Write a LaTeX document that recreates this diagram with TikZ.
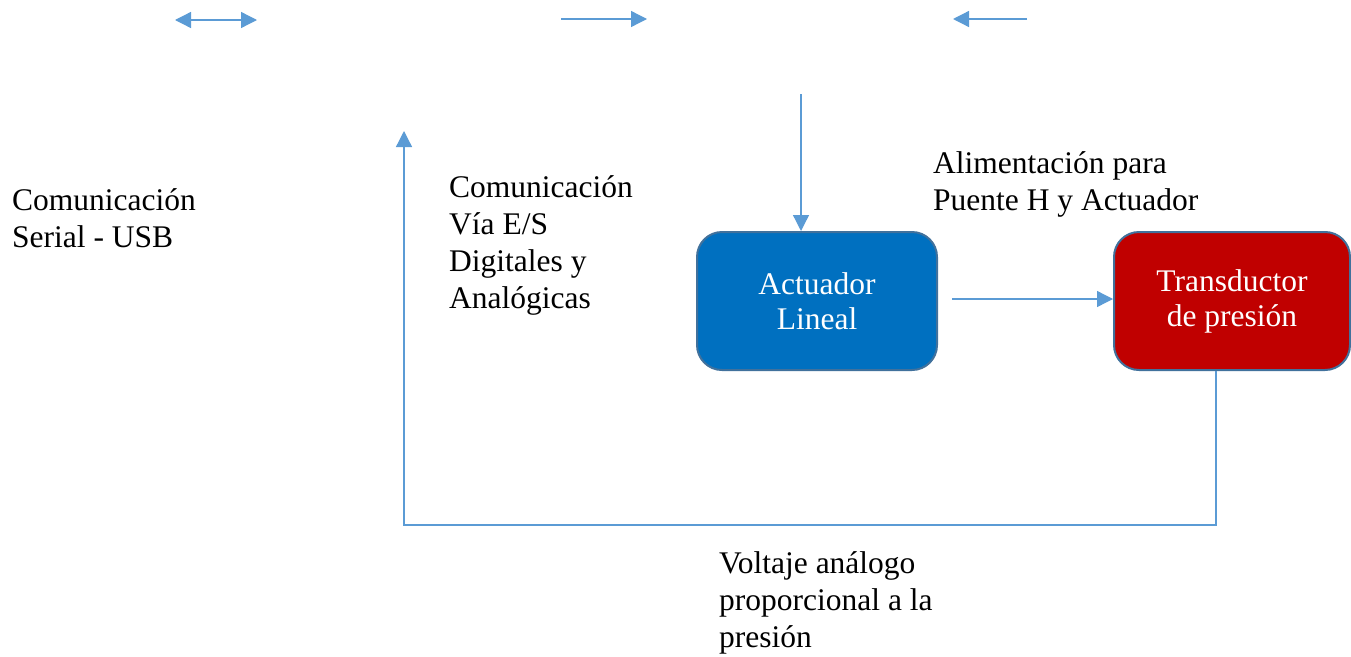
\documentclass[tikz,border=0pt]{standalone}
\usepackage{fontspec}
\setmainfont{Liberation Serif}
\usetikzlibrary{arrows.meta}
\definecolor{arrowblue}{HTML}{5B9BD5}
\definecolor{boxblue}{HTML}{0070C0}
\definecolor{boxred}{HTML}{C00000}
\definecolor{boxedge}{HTML}{41719C}
\tikzset{
  conn/.style={draw=arrowblue, line width=1.3pt, -{Triangle[length=16pt,width=16pt]}},
  dconn/.style={draw=arrowblue, line width=1.3pt, {Triangle[length=16pt,width=16pt]}-{Triangle[length=16pt,width=16pt]}},
  blockbox/.style={draw=boxedge, line width=2pt, rounded corners=25pt, minimum width=240pt, minimum height=138pt, text=white, align=center, font=\fontsize{31.5}{35}\selectfont, inner sep=0pt},
  label/.style={align=left, anchor=base west, inner sep=0pt, font=\fontsize{31.5}{36.7}\selectfont}
}
\begin{document}
\begin{tikzpicture}[x=1pt,y=-1pt]
\useasboundingbox (0,0) rectangle (1351,656);
% blocks
\node[blockbox, fill=boxblue] (act) at (817,301) {\raisebox{-2pt}{\parbox{200pt}{\centering Actuador\\Lineal}}};
\node[blockbox, fill=boxred, minimum width=236pt] (tra) at (1232,301) {\raisebox{-2pt}{\parbox{200pt}{\centering Transductor\\de presión}}};
% texts (anchor = baseline of last line)
\node[label] (t1) at (12,247) {Comunicación\\Serial - USB};
\node[label] (t2) at (449,308) {Comunicación\\Vía E/S\\Digitales y\\Analógicas};
\node[label] (t3) at (933,210) {Alimentación para\\Puente H y Actuador};
\node[label] (t4) at (719,647) {Voltaje análogo\\proporcional a la\\presión};
% top legend arrows
\coordinate (a1) at (175,20);
\coordinate (a2) at (257,20);
\coordinate (b1) at (561,19);
\coordinate (b2) at (647,19);
\coordinate (c1) at (1027,19);
\coordinate (c2) at (953,19);
\draw[dconn] (a1) -- (a2);
\draw[conn] (b1) -- (b2);
\draw[conn] (c1) -- (c2);
% connectors
\coordinate (pw) at (801,94);
\draw[conn] (pw) -- (act.north -| pw);
\coordinate (ao) at (952,299);
\draw[conn] (ao) -- (tra.west |- ao);
\coordinate (fb1) at (1216,525);
\coordinate (fb2) at (404,525);
\coordinate (fb3) at (404,131);
\draw[conn] (tra.south -| fb1) -- (fb1) -- (fb2) -- (fb3);
\end{tikzpicture}
\end{document}
